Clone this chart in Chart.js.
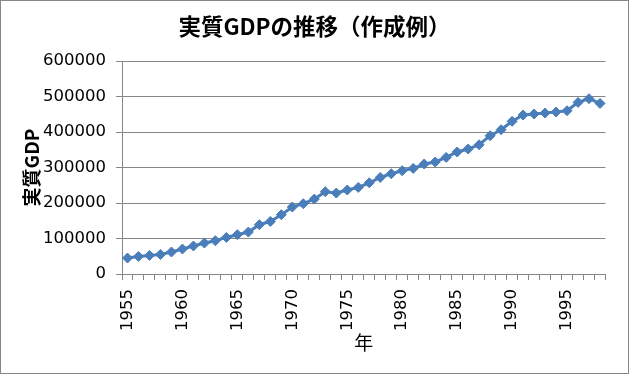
<!DOCTYPE html>
<html>
<head>
<meta charset="utf-8">
<script src="https://cdn.jsdelivr.net/npm/chart.js@4/dist/chart.umd.min.js"></script>
<style>
  html, body { margin: 0; padding: 0; background: #fff; }
  #wrap { width: 629px; height: 374px; position: relative; }
</style>
</head>
<body>
<div id="wrap"><canvas id="gdpChart" width="629" height="374"></canvas></div>
<script>
// 年（カテゴリ）
const years = [
    1955, 1956, 1957, 1958, 1959, 1960, 1961, 1962, 1963, 1964,
    1965, 1966, 1967, 1968, 1969, 1970, 1971, 1972, 1973, 1974,
    1975, 1976, 1977, 1978, 1979, 1980, 1981, 1982, 1983, 1984,
    1985, 1986, 1987, 1988, 1989, 1990, 1991, 1992, 1993, 1994,
    1995, 1996, 1997, 1998
];
// 実質GDP
const realGdp = [
    45000, 49600, 52400, 55000, 62000, 70400, 78900, 87300, 93800, 103000,
    110700, 118300, 138900, 148000, 167000, 188700, 198000, 211000, 231800, 228000,
    236600, 244000, 257000, 272000, 282500, 291000, 297500, 309800, 315500, 328500,
    343700, 352100, 364000, 389600, 406500, 430000, 447900, 450700, 453500, 456300,
    460000, 483400, 493800, 480600
];
const yTicks = [0, 100000, 200000, 300000, 400000, 500000, 600000];

const chartTitle = '実質GDPの推移（作成例）';
const yTitle = '実質GDP';
const xTitle = '年';

const jpFont = '"Noto Sans CJK JP", "Noto Sans", sans-serif';
const numFont = '"DejaVu Sans", sans-serif';
const axisGray = '#868686';
const lineBlue = '#4A7EBB';

// 外枠
const frameBorder = {
    id: 'frameBorder',
    afterDraw(chart) {
        const ctx = chart.ctx;
        ctx.save();
        ctx.strokeStyle = axisGray;
        ctx.lineWidth = 1;
        ctx.strokeRect(0.5, 0.5, chart.width - 1, chart.height - 1);
        ctx.restore();
    }
};

const ctx = document.getElementById('gdpChart').getContext('2d');
new Chart(ctx, {
    type: 'line',
    data: {
        labels: years.map(String),
        datasets: [{
            label: yTitle,
            data: realGdp,
            borderColor: lineBlue,
            backgroundColor: lineBlue,
            borderWidth: 3,
            pointStyle: 'rectRot',
            pointRadius: 5,
            pointBackgroundColor: lineBlue,
            pointBorderColor: lineBlue,
            pointBorderWidth: 1,
            tension: 0,
            fill: false
        }]
    },
    options: {
        responsive: false,
        animation: false,
        devicePixelRatio: 1,
        layout: { padding: 0 },
        plugins: {
            legend: { display: false },
            tooltip: { enabled: false },
            title: {
                display: true,
                text: chartTitle,
                color: '#000',
                font: { family: jpFont, size: 22.5, weight: 'bold' },
                padding: { top: 13, bottom: 21 }
            }
        },
        scales: {
            x: {
                type: 'category',
                offset: true,
                grid: {
                    offset: true,
                    drawOnChartArea: false,
                    drawTicks: true,
                    tickLength: 6,
                    color: axisGray
                },
                border: { color: axisGray },
                ticks: {
                    autoSkip: false,
                    maxRotation: 90,
                    minRotation: 90,
                    padding: 9,
                    color: '#000',
                    font: { family: numFont, size: 16.5 },
                    callback: (v, i) => (years[i] % 5 === 0 ? String(years[i]) : '')
                },
                title: {
                    display: true,
                    text: xTitle,
                    color: '#000',
                    font: { family: jpFont, size: 19 },
                    padding: { top: 0, bottom: 20 }
                },
                afterFit(scale) { scale.height = 100; }
            },
            y: {
                min: 0,
                max: 600000,
                afterBuildTicks(scale) { scale.ticks = yTicks.map(v => ({ value: v })); },
                grid: {
                    color: axisGray,
                    tickLength: 6,
                    drawTicks: true
                },
                border: { color: axisGray },
                ticks: {
                    padding: 10,
                    color: '#000',
                    font: { family: numFont, size: 16.5 },
                    callback: v => String(v)
                },
                title: {
                    display: true,
                    text: yTitle,
                    color: '#000',
                    font: { family: jpFont, size: 19, weight: 'bold' },
                    padding: { top: 20, bottom: 0 }
                },
                afterFit(scale) { scale.width = 122; }
            },
            // 右側の余白（表示なし）
            yRight: {
                position: 'right',
                min: 0,
                max: 600000,
                grid: { display: false },
                border: { display: false },
                ticks: { display: false },
                afterFit(scale) { scale.width = 16; }
            }
        }
    },
    plugins: [frameBorder]
});
</script>
</body>
</html>
